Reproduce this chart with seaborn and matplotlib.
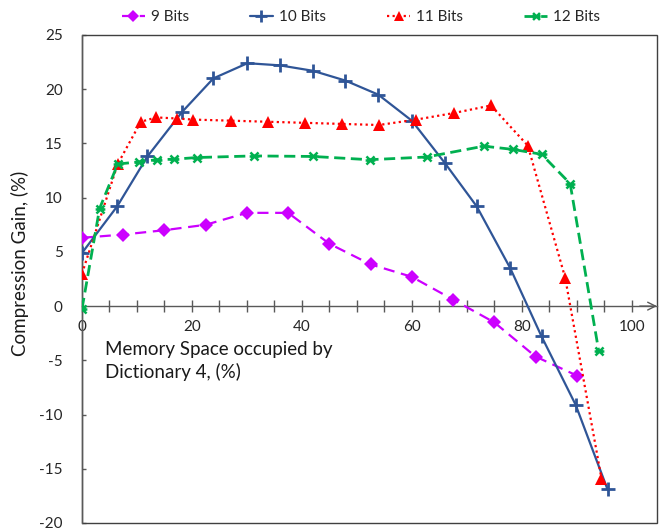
import numpy as np
import pandas as pd
import matplotlib
matplotlib.use("Agg")
import matplotlib.pyplot as plt
from matplotlib.path import Path
from matplotlib.patches import Rectangle
from matplotlib.lines import Line2D
import seaborn as sns

# ---- data ----
x9 = [0, 7.5, 15, 22.5, 30, 37.5, 45, 52.5, 60, 67.5, 75, 82.5, 90]
y9 = [6.3, 6.6, 7.0, 7.5, 8.6, 8.6, 5.75, 3.85, 2.7, 0.6, -1.5, -4.65, -6.4]

x10 = [0, 6.4, 11.9, 18.2, 23.9, 30.1, 36.0, 42.0, 47.9, 53.9, 60.0, 66.0, 71.8, 77.9, 83.6, 89.8, 95.6]
y10 = [4.9, 9.2, 13.8, 17.9, 21.0, 22.4, 22.2, 21.7, 20.8, 19.5, 17.1, 13.2, 9.2, 3.5, -2.8, -9.1, -16.9]

x11 = [0, 6.5, 10.7, 13.5, 17.3, 20.2, 27.1, 33.8, 40.6, 47.3, 54.0, 60.8, 67.6, 74.4, 81.1, 87.9, 94.5]
y11 = [3.0, 13.1, 17.0, 17.4, 17.3, 17.2, 17.1, 17.0, 16.9, 16.8, 16.7, 17.2, 17.8, 18.5, 14.8, 2.6, -15.9]

x12 = [0, 3.2, 6.5, 10.3, 13.6, 16.8, 20.9, 31.2, 42.0, 52.3, 62.7, 73.1, 78.4, 83.6, 88.8, 94.0]
y12 = [-0.25, 9.0, 13.1, 13.3, 13.5, 13.55, 13.7, 13.85, 13.8, 13.5, 13.75, 14.75, 14.45, 14.0, 11.3, -4.15]

series_names = ["9 Bits", "10 Bits", "11 Bits", "12 Bits"]
x_ticklabels = ["0", "20", "40", "60", "80", "100"]
y_ticks = [-20, -15, -10, -5, 0, 5, 10, 15, 20, 25]

x_label = "Memory Space occupied by\nDictionary 4, (%)"
y_label = "Compression Gain, (%)"

# ---- style ----
sns.set_theme(style="white")
plt.rcParams["font.family"] = ["Lato", "DejaVu Sans"]

# Excel-like star marker: X plus horizontal bar
star_path = Path(
    [(-1, -1), (1, 1), (-1, 1), (1, -1), (-1.2, 0), (1.2, 0)],
    [Path.MOVETO, Path.LINETO, Path.MOVETO, Path.LINETO, Path.MOVETO, Path.LINETO],
)

styles = {
    "9 Bits": dict(color="#CC00FF", marker="D", ms=7.5, mew=0, ls=(0, (5, 3)), lw=1.6, mfc="#CC00FF"),
    "10 Bits": dict(color="#2F5597", marker="+", ms=10, mew=2.0, ls="-", lw=1.6, mfc="#2F5597"),
    "11 Bits": dict(color="#FF0000", marker="^", ms=8, mew=0, ls=(0, (1, 1.5)), lw=1.6, mfc="#FF0000"),
    "12 Bits": dict(color="#00B050", marker=star_path, ms=7, mew=1.8, ls=(0, (4, 2)), lw=2.0, mfc="none"),
}

frames = []
for name, xs, ys in zip(series_names, [x9, x10, x11, x12], [y9, y10, y11, y12]):
    frames.append(pd.DataFrame({"x": xs, "y": ys, "series": name}))
df = pd.concat(frames, ignore_index=True)

fig = plt.figure(figsize=(6.63, 5.31), dpi=100)
ax = fig.add_axes([82 / 663, 1 - 523 / 531, (657 - 82) / 663, (523 - 35) / 531])

handles = []
for name in series_names:
    st = styles[name]
    sub = df[df["series"] == name]
    sns.lineplot(data=sub, x="x", y="y", ax=ax, estimator=None, sort=False,
                 color=st["color"], linestyle=st["ls"], linewidth=st["lw"],
                 marker=st["marker"], markersize=st["ms"], markeredgewidth=st["mew"],
                 markerfacecolor=st["mfc"], markeredgecolor=st["color"], legend=False,
                 zorder=3)
    handles.append(Line2D([], [], color=st["color"], linestyle=st["ls"], linewidth=st["lw"],
                          marker=st["marker"], markersize=st["ms"] * 0.85,
                          markeredgewidth=st["mew"], markerfacecolor=st["mfc"],
                          markeredgecolor=st["color"]))

ax.set_xlim(0, 104.6)
ax.set_ylim(-20, 25)

axis_col = "#595959"
# x axis at y = 0
ax.spines["bottom"].set_position(("data", 0))
ax.spines["bottom"].set_color(axis_col)
ax.spines["bottom"].set_linewidth(1.0)
ax.spines["left"].set_color(axis_col)
ax.spines["left"].set_linewidth(1.0)
ax.spines["top"].set_visible(False)
ax.spines["right"].set_visible(False)
ax.add_patch(Rectangle((0, 0), 1, 1, transform=ax.transAxes, fill=False,
                       ec="#404040", lw=1.0, clip_on=False, zorder=1))
ax.annotate("", xy=(1.0, 0), xytext=(0.97, 0), xycoords=("axes fraction", "data"),
            textcoords=("axes fraction", "data"),
            arrowprops=dict(arrowstyle="->", color=axis_col, lw=1.0,
                            mutation_scale=14, shrinkA=0, shrinkB=0))

xt = np.arange(0, 101, 5)
ax.set_xticks(xt)
ax.set_xticklabels([str(int(v)) if str(int(v)) in x_ticklabels else "" for v in xt])
ax.tick_params(axis="x", direction="inout", length=8, width=1, color=axis_col,
               labelsize=11, pad=6, labelcolor="#262626", bottom=True)
ax.set_yticks(y_ticks)
ax.set_yticklabels([str(v) for v in y_ticks])
ax.tick_params(axis="y", direction="in", length=3, width=1, color=axis_col,
               labelsize=11, pad=14, labelcolor="#262626", left=True)
ax.set_xlabel("")
ax.set_ylabel("")

fig.text(105 / 663, 1 - 341 / 531, x_label, ha="left", va="top", fontsize=13.5,
         linespacing=1.3, color="#1a1a1a")
fig.text(20 / 663, 1 - 263 / 531, y_label, ha="center", va="center", rotation=90,
         fontsize=13.5, color="#1a1a1a")

fig.legend(handles, series_names, loc="center", bbox_to_anchor=(361 / 663, 1 - 17 / 531),
           ncol=4, frameon=False, fontsize=11, handlelength=1.5, handletextpad=0.4,
           columnspacing=4.0)

fig.savefig("out.png", dpi=100)
